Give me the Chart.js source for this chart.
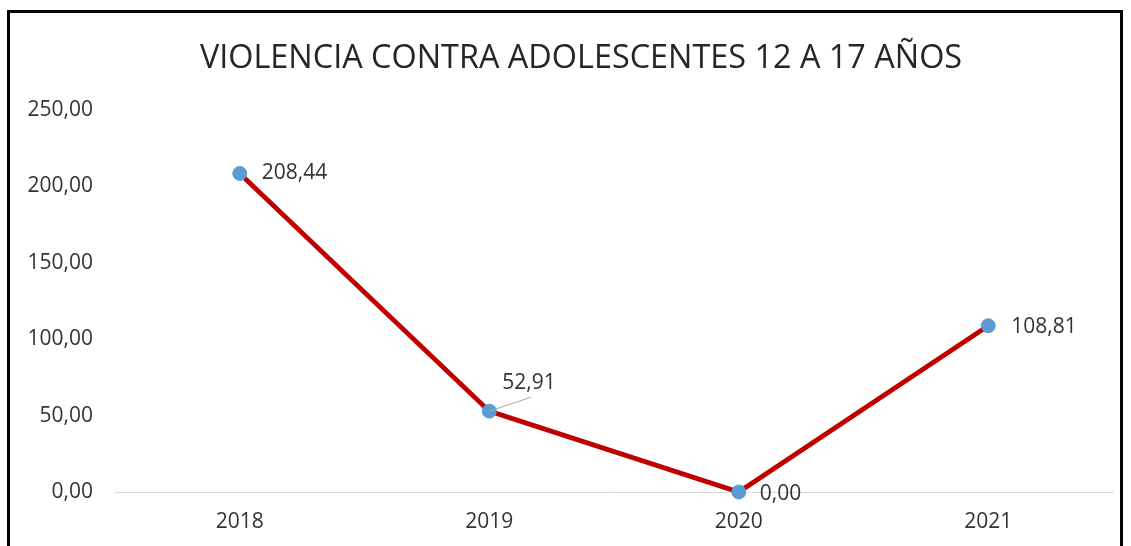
<!DOCTYPE html>
<html>
<head>
<meta charset="utf-8">
<script src="https://cdn.jsdelivr.net/npm/chart.js@4.4.1/dist/chart.umd.min.js"></script>
<style>
  html, body { margin: 0; padding: 0; background: #fff; overflow: hidden; }
  #wrap { position: relative; width: 1131px; height: 546px; }
  #myChart { position: absolute; left: 0; top: 0; }
  #frame {
    position: absolute; left: 7px; top: 10px; width: 1110px; height: 560px;
    border: 3px solid #000; pointer-events: none;
  }
</style>
</head>
<body>
<div id="wrap">
  <canvas id="myChart" width="1131" height="546"></canvas>
  <div id="frame"></div>
</div>
<script>
// Data for the chart
const years = ["2018", "2019", "2020", "2021"];
const rates = [208.44, 52.91, 0.00, 108.81];
const yTicks = [0, 50, 100, 150, 200, 250];
const chartTitle = 'VIOLENCIA CONTRA ADOLESCENTES 12 A 17 AÑOS';

// Where each value label sits, relative to its point
const labelOffsets = [
  { dx: 22, dy: 0 },
  { dx: 13, dy: -28, leader: true },
  { dx: 21, dy: 2 },
  { dx: 23, dy: 1 },
];

// Format numbers with comma decimals (e.g. 208,44)
function fmt(v) {
  return Number(v).toFixed(2).replace('.', ',');
}

const FONT = "'Open Sans', sans-serif";

// Title drawn by hand so it can sit centred on the whole frame
const frameTitle = {
  id: 'frameTitle',
  afterDraw(chart) {
    const ctx = chart.ctx;
    ctx.save();
    ctx.font = "32.4px " + FONT;
    ctx.fillStyle = '#262626';
    ctx.textAlign = 'center';
    ctx.textBaseline = 'alphabetic';
    ctx.fillText(chartTitle, 581, 68);
    ctx.restore();
  }
};

// Draws the value next to each point, with a small leader line when needed
const valueLabels = {
  id: 'valueLabels',
  afterDatasetsDraw(chart) {
    const ctx = chart.ctx;
    const meta = chart.getDatasetMeta(0);
    ctx.save();
    ctx.font = "21px " + FONT;
    ctx.fillStyle = '#333333';
    ctx.textAlign = 'left';
    ctx.textBaseline = 'middle';
    meta.data.forEach((pt, i) => {
      const off = labelOffsets[i];
      const x = pt.x + off.dx;
      const y = pt.y + off.dy;
      if (off.leader) {
        ctx.strokeStyle = '#A6A6A6';
        ctx.lineWidth = 1;
        ctx.beginPath();
        ctx.moveTo(pt.x, pt.y);
        ctx.lineTo(pt.x + 42, pt.y - 14);
        ctx.stroke();
      }
      ctx.fillText(fmt(rates[i]), x, y);
    });
    ctx.restore();
  }
};

function drawGraph() {
  const ctx = document.getElementById('myChart').getContext('2d');

  new Chart(ctx, {
    type: 'line',
    data: {
      labels: years,
      datasets: [{
        data: rates,
        clip: false,
        borderColor: '#C00000',
        borderWidth: 4.8,
        pointRadius: 7,
        pointBorderWidth: 1,
        pointBackgroundColor: '#5B9BD5',
        pointBorderColor: '#5B9BD5',
        tension: 0,
        fill: false,
      }]
    },
    options: {
      responsive: false,
      animation: false,
      layout: {
        padding: { left: 0, right: 18, top: 110, bottom: 14 }
      },
      plugins: {
        legend: { display: false },
        tooltip: { enabled: false },
        title: { display: false }
      },
      scales: {
        x: {
          offset: true,
          afterFit(scale) { scale.height = 40; },
          grid: { display: false, drawTicks: false },
          border: { display: true, color: '#D9D9D9', width: 1 },
          ticks: {
            color: '#333333',
            padding: 17,
            font: { family: FONT, size: 21 }
          }
        },
        y: {
          min: 0,
          max: 250,
          afterFit(scale) { scale.width = 115; },
          afterBuildTicks(scale) {
            scale.ticks = yTicks.map(v => ({ value: v }));
          },
          grid: { display: false, drawTicks: false },
          border: { display: false },
          ticks: {
            color: '#333333',
            padding: 22,
            font: { family: FONT, size: 21 },
            callback: v => fmt(v)
          }
        }
      }
    },
    plugins: [valueLabels, frameTitle]
  });
}

drawGraph();
</script>
</body>
</html>
